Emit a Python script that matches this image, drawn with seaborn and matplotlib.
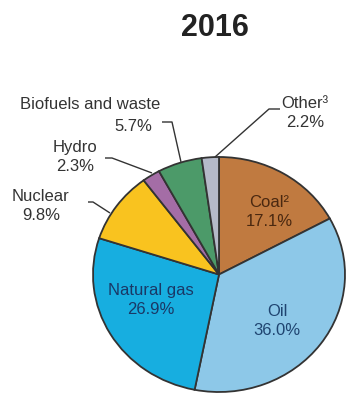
import matplotlib
matplotlib.use("Agg")
import matplotlib.pyplot as plt
import seaborn as sns

# Energy mix, 2016 (share of total, %)
sources = ["Coal\u00b2", "Oil", "Natural gas", "Nuclear", "Hydro",
           "Biofuels and waste", "Other\u00b3"]
shares = [17.1, 36.0, 26.9, 9.8, 2.3, 5.7, 2.2]
slice_colors = ["#C07A40", "#8DC8E8", "#17AEE0", "#F9C31F", "#A46DA6",
                "#4C9A69", "#B5BAC9"]
title = "2016"

sns.set_theme(style="white")
plt.rcParams["font.family"] = ["Liberation Sans", "DejaVu Sans"]

W, H = 347, 394
fig = plt.figure(figsize=(W / 100, H / 100), dpi=100)
fig.patch.set_facecolor("white")

# Pie axes: unit pie mapped onto the drawing area
ax = fig.add_axes([0, 0, 1, 1])
cx, cy, rx, ry = 219.0, 274.5, 126.0, 117.5
ax.pie(shares, colors=slice_colors, startangle=90, counterclock=False,
       wedgeprops=dict(edgecolor="#333333", linewidth=1.3))
ax.set_aspect("auto")
ax.set_xlim(-cx / rx, (W - cx) / rx)
ax.set_ylim(-(H - cy) / ry, cy / ry)
ax.axis("off")

# Overlay axes in pixel units for title, labels and leader lines
ov = fig.add_axes([0, 0, 1, 1], facecolor="none")
ov.set_xlim(0, W)
ov.set_ylim(H, 0)
ov.axis("off")

ov.text(215, 28, title, ha="center", va="center", fontsize=22,
        fontweight="bold", color="#222222")

fs = 12
ls = 1.3
dark = "#333333"

def pct(v):
    return f"{v:.1f}%"

# Labels inside the slices
ov.text(269, 212, f"{sources[0]}\n{pct(shares[0])}", ha="center", va="center",
        fontsize=fs, color="#4A2810", linespacing=ls)
ov.text(277, 321, f"{sources[1]}\n{pct(shares[1])}", ha="center", va="center",
        fontsize=fs, color="#1F4470", linespacing=ls)
ov.text(151, 300, f"{sources[2]}\n{pct(shares[2])}", ha="center", va="center",
        fontsize=fs, color="#1A3866", linespacing=ls)

# Labels outside the pie
ov.text(41, 206, f"{sources[3]}\n{pct(shares[3])}", ha="center", va="center",
        fontsize=fs, color=dark, linespacing=ls)
ov.text(75, 157, f"{sources[4]}\n{pct(shares[4])}", ha="center", va="center",
        fontsize=fs, color=dark, linespacing=ls)
ov.text(90, 104, sources[5], ha="center", va="center", fontsize=fs, color=dark)
ov.text(133, 126, pct(shares[5]), ha="center", va="center", fontsize=fs,
        color=dark)
ov.text(305, 113, f"{sources[6]}\n{pct(shares[6])}", ha="center", va="center",
        fontsize=fs, color=dark, linespacing=ls)

# Leader lines
leaders = [
    ([88, 93, 110], [202, 202, 213]),
    ([105, 112, 152], [158, 158, 173]),
    ([162, 172, 181], [122, 122, 162]),
    ([215, 269, 280], [157, 109, 109]),
]
for xs, ys in leaders:
    ov.plot(xs, ys, color=dark, linewidth=1.0, solid_capstyle="butt")

fig.savefig("out.png", dpi=100, facecolor="white")
